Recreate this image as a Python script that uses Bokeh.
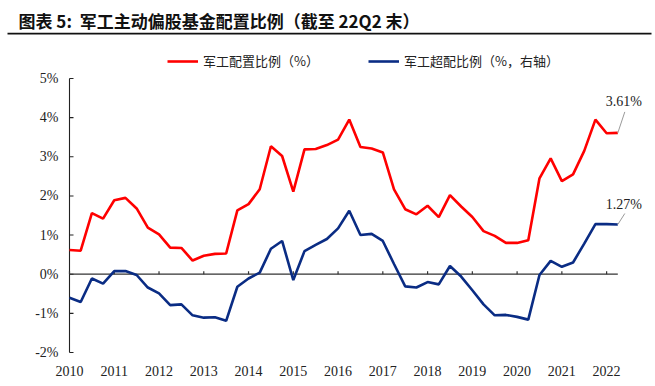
from bokeh.plotting import figure
from bokeh.models import (Range1d, Label, BoxAnnotation, Legend, LegendItem,
                          ColumnDataSource)
from bokeh.embed import file_html
from bokeh.resources import INLINE

# Quarterly series, 2010Q1 .. 2022Q2
years = list(range(2010, 2023))
alloc = [0.62, 0.60, 1.56, 1.42, 1.89, 1.95, 1.68, 1.19,
         1.02, 0.68, 0.67, 0.35, 0.47, 0.52, 0.53, 1.63,
         1.79, 2.17, 3.27, 3.02, 2.11, 3.19, 3.20, 3.30,
         3.44, 3.95, 3.25, 3.21, 3.11, 2.17, 1.66, 1.53,
         1.75, 1.46, 2.02, 1.73, 1.46, 1.10, 0.98, 0.80,
         0.80, 0.87, 2.45, 2.96, 2.38, 2.55, 3.15, 3.95,
         3.60, 3.61]
over = [-0.60, -0.71, -0.11, -0.24, 0.08, 0.08, -0.02, -0.34,
        -0.49, -0.79, -0.77, -1.05, -1.11, -1.10, -1.19, -0.32,
        -0.11, 0.04, 0.65, 0.85, -0.15, 0.59, 0.75, 0.90,
        1.17, 1.62, 1.00, 1.03, 0.85, 0.26, -0.31, -0.34,
        -0.20, -0.26, 0.21, -0.06, -0.41, -0.77, -1.05, -1.04,
        -1.09, -1.16, -0.02, 0.34, 0.19, 0.30, 0.78, 1.28,
        1.28, 1.27]
y_ticks = [-2, -1, 0, 1, 2, 3, 4, 5]
y_labels = [f"{t}%" for t in y_ticks]
year_labels = [str(y) for y in years]

RED = "#FF0000"
BLUE = "#0A2C84"
AXIS = "#222222"
SERIF = "Liberation Serif"
CJK = "Noto Sans CJK SC"

n = len(alloc)
idx = list(range(n))
year_pos = [i * 4 for i in range(len(years))]

# Canvas geometry: the plotting area (in pixels) that holds the data
W, H = 655, 386
plot_left, plot_top, plot_bottom = 69, 78, 352
px_per_q = 11.19
y_lo, y_hi = y_ticks[0], y_ticks[-1]
px_per_pct = (plot_bottom - plot_top) / (y_hi - y_lo)

# The frame fills the whole canvas, so the ranges are widened to keep the
# data inside the pixel box above; axes are drawn by hand on top of it.
x_range = Range1d(-plot_left / px_per_q, (W - plot_left) / px_per_q)
y_range = Range1d(y_lo - (H - plot_bottom) / px_per_pct,
                  y_hi + plot_top / px_per_pct)

p = figure(width=W, height=H, output_backend="svg", toolbar_location=None,
           x_range=x_range, y_range=y_range,
           min_border=0, min_border_left=0, min_border_right=0,
           min_border_top=0, min_border_bottom=0)
p.xaxis.visible = False
p.yaxis.visible = False
p.outline_line_color = None
p.xgrid.grid_line_color = None
p.ygrid.grid_line_color = None
p.background_fill_color = "white"
p.border_fill_color = "white"

# y axis: line, inward ticks, percent labels
tick_len_x = 4 / px_per_q
p.line([0, 0], [y_lo, y_hi], line_color=AXIS, line_width=1.1)
p.segment(x0=[0] * len(y_ticks), y0=y_ticks, x1=[tick_len_x] * len(y_ticks),
          y1=y_ticks, line_color=AXIS, line_width=1.1)
p.text(x=[0] * len(y_ticks), y=y_ticks, text=y_labels, x_offset=-11,
       text_align="right", text_baseline="middle", text_font=SERIF,
       text_font_size="14px", text_color=AXIS)

# zero line with small upward ticks at each year, year labels below
tick_len_y = 3 / px_per_pct
p.line([0, n - 1], [0, 0], line_color="#333333", line_width=1.2)
p.segment(x0=year_pos, y0=[0] * len(year_pos), x1=year_pos,
          y1=[tick_len_y] * len(year_pos), line_color="#333333",
          line_width=1.2)
p.text(x=year_pos, y=[y_lo] * len(year_pos), text=year_labels, y_offset=18,
       text_align="center", text_baseline="middle", text_font=SERIF,
       text_font_size="14px", text_color=AXIS)

src = ColumnDataSource(dict(x=idx, a=alloc, o=over))
r_red = p.line("x", "a", source=src, line_color=RED, line_width=2.6)
r_blue = p.line("x", "o", source=src, line_color=BLUE, line_width=2.6)

# end-value callouts
last = n - 1
for val, lead_px, text_px in [(alloc[-1], 21, 31), (over[-1], 11, 20)]:
    p.segment(x0=[last], y0=[val], x1=[last + 7 / px_per_q],
              y1=[val + lead_px / px_per_pct],
              line_color="#9A9A9A", line_width=1)
    p.add_layout(Label(x=last, y=val, text=f"{val:.2f}%", x_offset=6,
                       y_offset=text_px, text_align="center",
                       text_baseline="middle", text_font=SERIF,
                       text_font_size="14px", text_color=AXIS))

# legends
for rend, name, lx in [(r_red, "军工配置比例（%）", 167),
                       (r_blue, "军工超配比例（%，右轴）", 368)]:
    lg = Legend(items=[LegendItem(label=name, renderers=[rend])],
                location=(lx, H - 70), orientation="horizontal",
                padding=0, margin=0, spacing=0, glyph_width=31,
                glyph_height=16, label_height=16, label_standoff=5,
                label_text_font=CJK, label_text_font_size="13px",
                label_text_color=AXIS, border_line_color=None,
                background_fill_alpha=0)
    p.add_layout(lg)

# title and rule beneath it
p.add_layout(Label(x=18, y=H - 20, x_units="screen", y_units="screen",
                   text="图表 5:\u00a0\u00a0军工主动偏股基金配置比例（截至 22Q2 末）",
                   text_font=CJK, text_font_style="bold",
                   text_font_size="17px", text_color="#111111",
                   text_baseline="middle", text_align="left"))
p.add_layout(BoxAnnotation(left=7, right=651, top=H - 32.3, bottom=H - 34.0,
                           left_units="screen", right_units="screen",
                           top_units="screen", bottom_units="screen",
                           fill_color="#111111", fill_alpha=1,
                           line_color=None))

open("out.html", "w").write(file_html(p, INLINE))
